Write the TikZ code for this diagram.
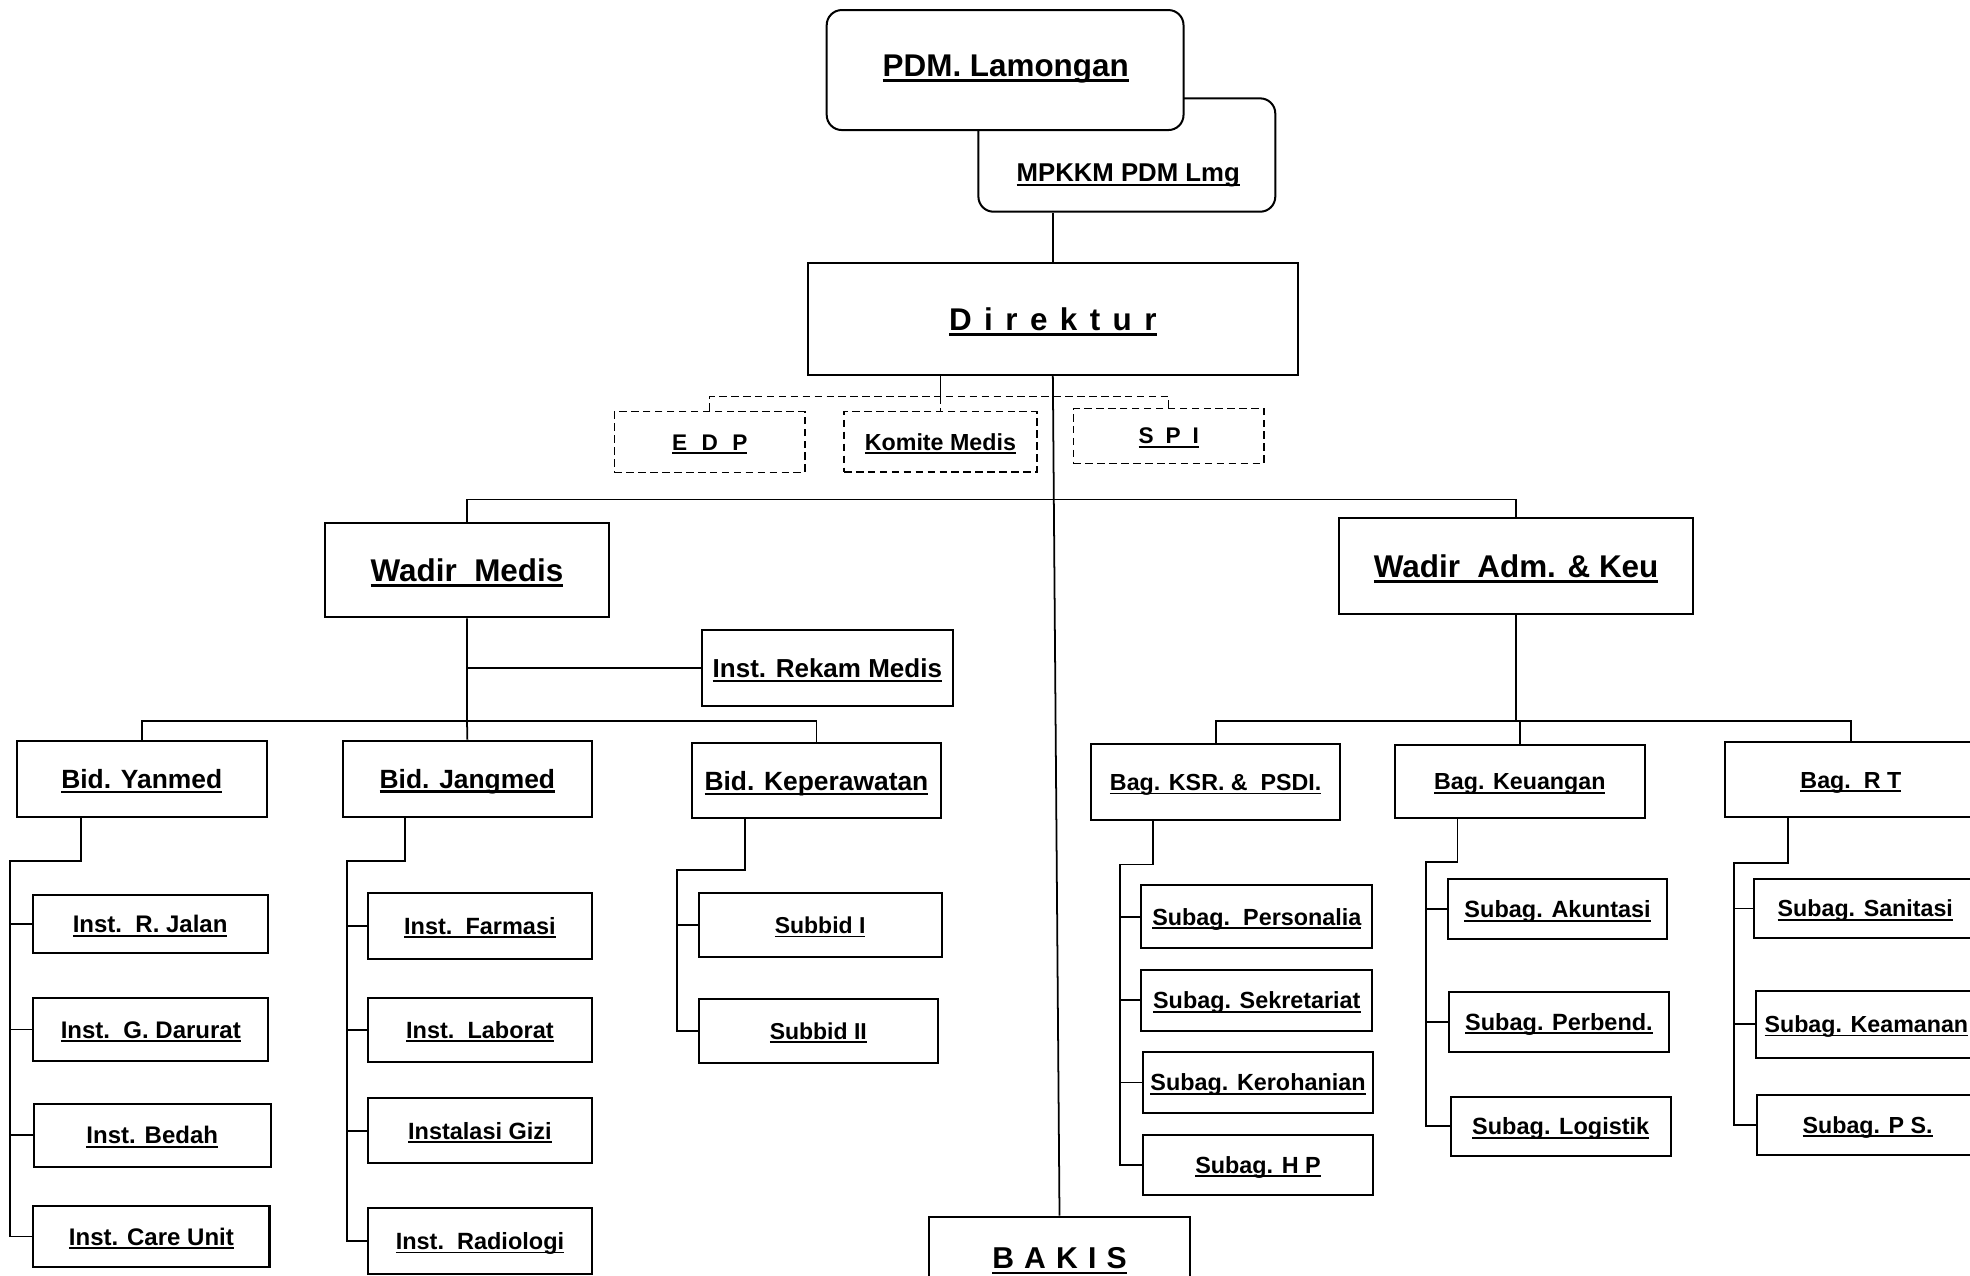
\documentclass[tikz,border=0pt]{standalone}
\usepackage{fontspec}
\setmainfont{Liberation Sans}
\usetikzlibrary{calc}
\newcommand{\myul}[1]{\setbox0\hbox{#1}\rule{0pt}{0.716em}\smash{\rlap{\rule[-0.17em]{\wd0}{0.08em}}\box0}}
\newcommand{\gapD}{\hspace{9.9pt}}
\newcommand{\gapB}{\hspace{8.1pt}}
\begin{document}
\begin{tikzpicture}[x={(1pt,0)}, y={(0,-1pt)},
  box/.style={draw, line width=1.6pt, fill=white, inner sep=0pt},
  dbox/.style={box, line width=1.2pt, dash pattern=on 6pt off 3.5pt},
  conn/.style={line width=1.4pt},
  dconn/.style={line width=1.2pt, dash pattern=on 6pt off 3.5pt},
  txtsize/.style={font=\fontsize{#1}{#1}\selectfont\bfseries},
  wh/.style 2 args={minimum width=#1pt, minimum height=#2pt}]
\fill[white] (0,0) rectangle (1568,1015);
\useasboundingbox (0,0) rectangle (1568,1015);

% top
\node[box, wh={236.3}{90.2}, rounded corners=12pt] (mpkkm) at (896.9,123.4) {};
\node[box, wh={284}{95.5}, rounded corners=12pt] (pdm) at (800,55.75) {};
\node[txtsize=25] (pdmtext) at (800.5,52) {\myul{PDM. Lamongan}};
\node[txtsize=20.5] (mpkkmtext) at (898,137) {\myul{MPKKM PDM Lmg}};

\node[box, wh={390}{89}, txtsize=25] (direktur) at (838,254)
  {\myul{D\gapD i\gapD r\gapD e\gapD k\gapD t\gapD u\gapD r}};

% staff (dashed)
\node[dbox, wh={151.7}{48.3}, txtsize=18] (edp) at (564.9,351.8) {\myul{E\hspace{11.5pt}D\hspace{11.5pt}P}};
\node[dbox, wh={153.4}{47.8}, txtsize=18.5] (komite) at (748.5,351.6) {\myul{Komite Medis}};
\node[dbox, wh={151.6}{43.8}, txtsize=18] (spi) at (930.2,346.9) {\myul{S\hspace{9.5pt}P\hspace{9.5pt}I}};

% wadir
\node[box, wh={226.6}{74.8}, txtsize=25] (wmed) at (371.7,453.9) {\myul{Wadir\ \ Medis}};
\node[box, wh={281.5}{76.4}, txtsize=25] (wadm) at (1206.75,450.8) {\myul{Wadir\ \ Adm. \& Keu}};

\node[box, wh={199.9}{60.6}, txtsize=20.7] (rekam) at (658.5,531.7) {\myul{Inst. Rekam Medis}};

% bidang / bagian
\node[box, wh={199.2}{60}, txtsize=21] (yanmed) at (112.8,620) {\myul{Bid. Yanmed}};
\node[box, wh={197.6}{60.5}, txtsize=21] (jangmed) at (372,619.75) {\myul{Bid. Jangmed}};
\node[box, wh={198.9}{59.7}, txtsize=21] (keper) at (649.85,621.45) {\myul{Bid. Keperawatan}};
\node[box, wh={197.8}{60.3}, txtsize=18.5] (ksr) at (967.6,622.55) {\myul{Bag. KSR. \&\ \ PSDI.}};
\node[box, wh={198.7}{58}, txtsize=18.5] (keu) at (1209.65,622) {\myul{Bag. Keuangan}};
\node[box, wh={199.7}{59.7}, txtsize=18.5] (rt) at (1473.15,620.65) {\myul{Bag.\ \ R T}};

% Yanmed units
\node[box, wh={187}{46.2}, txtsize=19.1] (rjalan) at (119.5,735.5) {\myul{Inst.\ \ R. Jalan}};
\node[box, wh={187}{49.8}, txtsize=19.1] (gdarurat) at (120,819.4) {\myul{Inst.\ \ G. Darurat}};
\node[box, wh={188.8}{49.9}, txtsize=19.1] (bedah) at (121.2,903.65) {\myul{Inst. Bedah}};
\node[box, wh={188}{48.5}, txtsize=19.1] (care) at (120.5,984.25) {\myul{Inst. Care Unit}};

% Jangmed units
\node[box, wh={178}{52}, txtsize=18.7] (farmasi) at (382,737) {\myul{Inst.\ \ Farmasi}};
\node[box, wh={178}{50.5}, txtsize=18.7] (laborat) at (382,819.75) {\myul{Inst.\ \ Laborat}};
\node[box, wh={178}{51.8}, txtsize=18.7] (gizi) at (382,899.9) {\myul{Instalasi Gizi}};
\node[box, wh={178}{52.4}, txtsize=18.7] (radiologi) at (382,987.8) {\myul{Inst.\ \ Radiologi}};

% Keperawatan units
\node[box, wh={193.5}{51}, txtsize=18.3] (subbid1) at (652.75,736.5) {\myul{Subbid I}};
\node[box, wh={190.6}{51}, txtsize=18.3] (subbid2) at (651.3,820.5) {\myul{Subbid II}};

% KSR units
\node[box, wh={183.9}{50.4}, txtsize=18.6] (personalia) at (1000.35,729.6) {\myul{Subag.\ \ Personalia}};
\node[box, wh={183.9}{48.3}, txtsize=18.6] (sekretariat) at (1000.35,796.15) {\myul{Subag. Sekretariat}};
\node[box, wh={183.5}{48}, txtsize=18.6] (kerohanian) at (1001.3,861.6) {\myul{Subag. Kerohanian}};
\node[box, wh={183.5}{47.7}, txtsize=18.6] (hp) at (1001.3,927.25) {\myul{Subag. H P}};

% Keuangan units
\node[box, wh={174.9}{47.7}, txtsize=18.7] (akuntasi) at (1239.75,723.75) {\myul{Subag. Akuntasi}};
\node[box, wh={174.9}{47.2}, txtsize=18.7] (perbend) at (1240.85,813.4) {\myul{Subag. Perbend.}};
\node[box, wh={175.5}{47.2}, txtsize=18.7] (logistik) at (1242.25,896.5) {\myul{Subag. Logistik}};

% RT units
\node[box, wh={176.7}{46.4}, txtsize=18.5] (sanitasi) at (1484.65,723.1) {\myul{Subag. Sanitasi}};
\node[box, wh={176}{53.3}, txtsize=18.5] (keamanan) at (1485.5,815.15) {\myul{Subag. Keamanan}};
\node[box, wh={176}{47.8}, txtsize=18.5] (ps) at (1486.5,895.4) {\myul{Subag. P S.}};

% BAKIS
\node[box, wh={207.4}{66}, txtsize=24] (bakis) at (843.3,1001.4) {\myul{B\gapB A\gapB K\gapB I\gapB S}};

% ---------- connectors ----------
\coordinate (hub) at (840,397.5);
\coordinate (dhub) at (748.5,315.5);
\coordinate (mhub) at (371.7,573.6);
\coordinate (ahub) at (1206.75,574);

\draw[conn] (direktur.north) -- (direktur.north |- mpkkm.south);
\draw[conn] (direktur.south) -- (bakis.north);
\draw[conn] (wmed.north) |- (hub) -| (wadm.north);

\draw[conn] (komite.north |- direktur.south) -- (dhub);
\draw[dconn] (dhub) -- (komite.north);
\draw[dconn] (edp.north) |- (dhub) -| (spi.north);

\draw[conn] (wmed.south) -- (mhub) -- (jangmed.north);
\draw[conn] (wmed.south |- rekam.west) -- (rekam.west);
\draw[conn] (yanmed.north) |- (mhub) -| (keper.north);

\draw[conn] (wadm.south) -- (ahub);
\draw[conn] (ksr.north) |- (ahub) -| (rt.north);
\draw[conn] (keu.north) -- (keu.north |- ahub);

% Yanmed bracket
\coordinate (yA) at (64.5,685);
\coordinate (yB) at (7.9,685);
\draw[conn] (yA |- yanmed.south) -- (yA) -- (yB) |- (care.west);
\foreach \n in {rjalan,gdarurat,bedah} \draw[conn] (yB |- \n.west) -- (\n.west);

% Jangmed bracket
\coordinate (jA) at (322.6,685);
\coordinate (jB) at (276,685);
\draw[conn] (jA |- jangmed.south) -- (jA) -- (jB) |- (radiologi.west);
\foreach \n in {farmasi,laborat,gizi} \draw[conn] (jB |- \n.west) -- (\n.west);

% Keperawatan bracket
\coordinate (kA) at (593.2,692.5);
\coordinate (kB) at (538.6,692.5);
\draw[conn] (kA |- keper.south) -- (kA) -- (kB) |- (subbid2.west);
\draw[conn] (kB |- subbid1.west) -- (subbid1.west);

% KSR bracket
\coordinate (sA) at (917.5,688);
\coordinate (sB) at (891.2,688);
\draw[conn] (sA |- ksr.south) -- (sA) -- (sB) |- (hp.west);
\foreach \n in {personalia,sekretariat,kerohanian} \draw[conn] (sB |- \n.west) -- (\n.west);

% Keuangan bracket
\coordinate (uA) at (1160,686);
\coordinate (uB) at (1135.1,686);
\draw[conn] (uA |- keu.south) -- (uA) -- (uB) |- (logistik.west);
\foreach \n in {akuntasi,perbend} \draw[conn] (uB |- \n.west) -- (\n.west);

% RT bracket
\coordinate (tA) at (1423.4,686.6);
\coordinate (tB) at (1380,686.6);
\draw[conn] (tA |- rt.south) -- (tA) -- (tB) |- (ps.west);
\foreach \n in {sanitasi,keamanan} \draw[conn] (tB |- \n.west) -- (\n.west);
\end{tikzpicture}
\end{document}
